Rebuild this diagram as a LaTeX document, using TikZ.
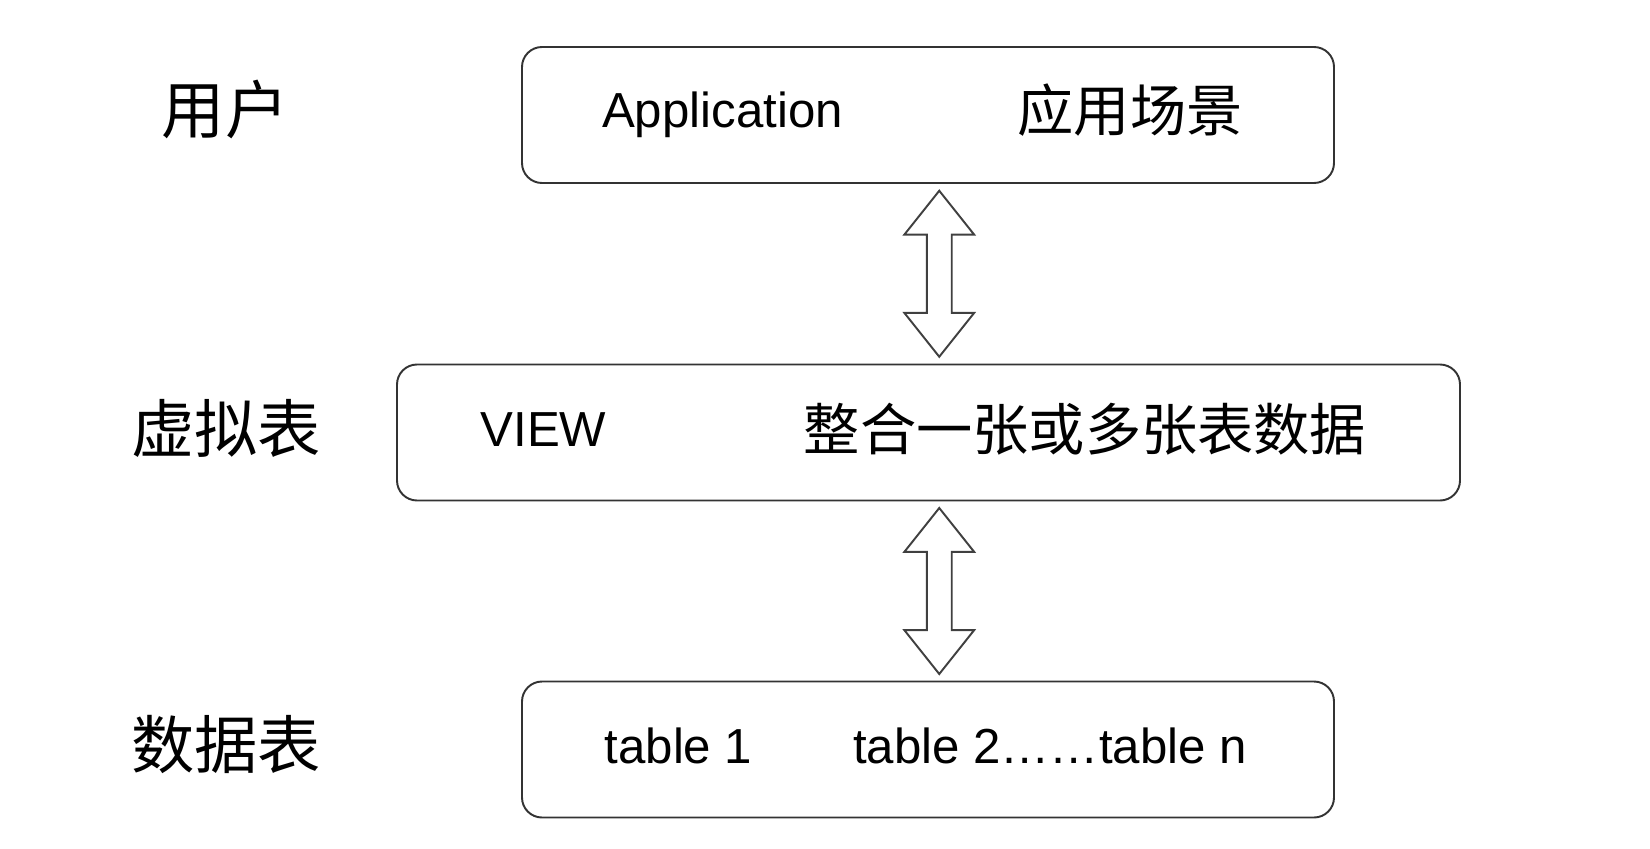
\documentclass[tikz,border=0pt]{standalone}
\usepackage{fontspec}
\setmainfont{Liberation Sans}
\newfontfamily\cjk{Noto Sans CJK SC}
\usetikzlibrary{shapes.arrows,calc}

\begin{document}
\begin{tikzpicture}[
	layerbox/.style={draw=black!80, line width=1.1pt, rounded corners=0.4cm, minimum height=2.72cm, inner sep=0pt},
	en/.style={anchor=base, inner sep=0pt, font=\fontsize{28}{30}\selectfont},
	zh/.style={inner sep=0pt, font=\fontsize{32}{34}\selectfont\cjk},
	side/.style={inner sep=0pt, font=\fontsize{36}{38}\selectfont\cjk},
	dblarrow/.style={double arrow, draw=black!75, line width=1.1pt, rotate=90, minimum height=3.32cm, inner xsep=0pt, inner ysep=0.23cm, double arrow head extend=0.45cm, double arrow tip angle=77}]
	\useasboundingbox (0,0) rectangle (33,16.96);
	% layers
	\node[layerbox, minimum width=16.24cm] (app) at (18.56,14.66) {};
	\node[layerbox, minimum width=21.26cm] (view) at (18.57,8.31) {};
	\node[layerbox, minimum width=16.24cm] (tbl) at (18.56,1.97) {};
	% side labels
	\node[side] (user) at (4.50,14.78) {用户};
	\node[side] (virt) at (4.52,8.40) {虚拟表};
	\node[side] (data) at (4.52,2.06) {数据表};
	% box texts
	\node[en] (apptxt) at (14.45,14.40) {Application};
	\node[zh] (appzh) at (22.60,14.76) {应用场景};
	\node[en] (viewtxt) at (10.87,8.04) {VIEW};
	\node[zh] (viewzh) at (21.70,8.38) {整合一张或多张表数据};
	\node[en] (tbla) at (13.57,1.70) {table 1};
	\node[en] (tblb) at (21.00,1.70) {table 2……table n};
	% arrows between layers
	\node[dblarrow] (up) at ($(app.south)!0.5!(view.north)+(0.22,0)$) {};
	\node[dblarrow] (down) at ($(view.south)!0.5!(tbl.north)+(0.22,0)$) {};
\end{tikzpicture}
\end{document}
